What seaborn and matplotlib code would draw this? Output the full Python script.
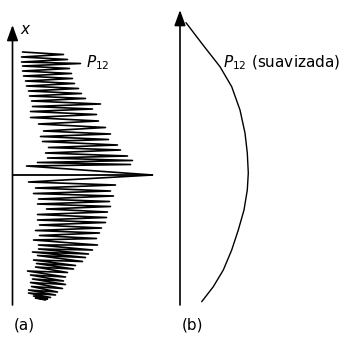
import matplotlib
matplotlib.use("Agg")
import matplotlib.pyplot as plt
from matplotlib.patches import ArrowStyle
import seaborn as sns
import pandas as pd

sns.set_style("white")
plt.rcParams["font.family"] = ["DejaVu Sans"]
plt.rcParams["mathtext.fontset"] = "dejavusans"
plt.rcParams["text.color"] = "black"

# (a) raw P12 profile: zigzag vertices (P12 value, height x), top to bottom
raw_p12 = [
    10, 51, 9, 55, 9, 68, 10, 57, 10, 59, 11, 60, 13, 62, 14, 66, 16, 69,
    17, 73, 19, 88,
    20, 80, 18, 84, 18, 86, 26, 93, 31, 98, 28, 96, 30, 105, 36, 108, 33, 115,
    35, 120, 25, 118, 14, 140,
    16, 103, 23, 98, 21, 101, 26, 97, 25, 98, 34, 95, 25, 94, 25, 93, 27, 89,
    23, 87, 27, 84,
    21, 85, 26, 80, 26, 76, 20, 73, 25, 70, 21, 63, 24, 61, 23, 55, 15, 53,
    18, 51, 20, 53, 18, 50, 19, 45, 16, 43, 16, 38, 21, 35, 23, 33,
]
raw_x = [
    123, 120.5, 118, 115.5, 113, 111.5, 109, 106.5, 104, 101.5, 99, 96.5,
    94, 91.5, 89, 86.5, 84, 81.5, 79, 76.5, 74, 71,
    68.5, 66, 63.5, 60.5, 57.5, 54, 51, 47.5, 44, 41, 38.5, 35.5, 33.5, 30,
    27.5, 25, 22, 19, 17, 14.5, 12.5, 10.5, 9, 0,
    -7, -10, -13, -16, -18.5, -21, -24, -26.5, -29, -31.5, -34, -37, -39.5,
    -42.5, -45, -47.5, -50, -53, -55.5, -58, -60.5, -63.5,
    -65, -70, -70, -75, -74, -79, -77, -82.5, -80.5, -86.5, -85, -90.5,
    -88.5, -94, -92, -97.5, -96, -102, -100, -106, -104, -109.5, -107.5,
    -113.5, -111.5, -117, -115, -120, -118, -122.5, -121, -124, -123, -125,
]

# (b) smoothed P12 profile
smooth_p12 = [6, 23, 40, 51.7, 60, 65, 67.3, 68.3, 67.3, 64, 58.3, 51.7, 43.3, 33.3, 21.7]
smooth_x = [152.3, 130, 108.3, 88.3, 65, 42, 22, 2, -15, -35, -55, -75, -95, -111.7, -126.7]

raw = pd.DataFrame({"P12": raw_p12, "x": raw_x})
smooth = pd.DataFrame({"P12": smooth_p12, "x": smooth_x})

W, H = 345, 338
fig = plt.figure(figsize=(W / 100, H / 100), dpi=100)

bottom, height = 33 / H, 295 / H
ax_a = fig.add_axes([12.5 / W, bottom, 160 / W, height])
ax_b = fig.add_axes([180 / W, bottom, 160 / W, height])

arrow = ArrowStyle("-|>", head_length=0.47, head_width=0.17)

# axis arrows
ax_a.annotate("", xy=(0, 150), xytext=(0, -130),
              arrowprops=dict(arrowstyle=arrow, mutation_scale=20, lw=1.2,
                              color="black", shrinkA=0, shrinkB=0))
ax_b.annotate("", xy=(0, 165), xytext=(0, -130),
              arrowprops=dict(arrowstyle=arrow, mutation_scale=20, lw=1.2,
                              color="black", shrinkA=0, shrinkB=0))

# reference line at x = 0
ax_a.plot([0, 140], [0, 0], color="black", lw=1.3, solid_capstyle="butt")

sns.lineplot(data=raw, x="P12", y="x", sort=False, estimator=None,
             color="black", lw=1.2, ax=ax_a)
sns.lineplot(data=smooth, x="P12", y="x", sort=False, estimator=None,
             color="black", lw=1.0, ax=ax_b)

for ax in (ax_a, ax_b):
    ax.set_xlim(0, 160)
    ax.set_ylim(-130, 165)
    ax.axis("off")

ax_a.text(8, 146, "$x$", fontsize=11, ha="left", va="center")
ax_a.text(74, 112, "$P_{12}$", fontsize=11, ha="left", va="center")
ax_b.text(43, 112, "$P_{12}$ (suavizada)", fontsize=11, ha="left", va="center",
          clip_on=False)

fig.text(24 / W, 13 / H, "(a)", fontsize=11, ha="center", va="center")
fig.text(193 / W, 13 / H, "(b)", fontsize=11, ha="center", va="center")

fig.savefig("out.png", dpi=100)
